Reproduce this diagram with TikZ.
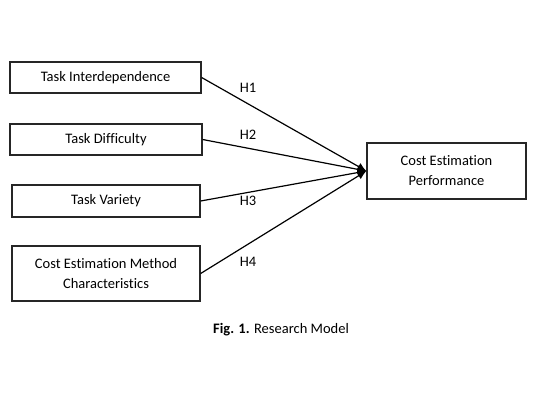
\documentclass[tikz,border=0pt]{standalone}
\usepackage{fontspec}
\setmainfont[Ligatures=NoCommon]{Carlito}
\usetikzlibrary{arrows.meta}
\begin{document}
\begin{tikzpicture}[x=1pt,y=-1pt,
  box/.style={draw=black!85,line width=1.3pt,inner sep=0pt,align=center,font=\fontsize{14.5}{20}\selectfont},
  lab/.style={font=\fontsize{14.5}{18}\selectfont},
  conn/.style={line width=1.2pt,-{Latex[length=9pt,width=8pt]}}]
\useasboundingbox (0,0) rectangle (544,408);
\node[box,minimum width=191pt,minimum height=31pt] (a) at (105.5,77.5) {Task Interdependence};
\node[box,minimum width=192pt,minimum height=31pt] (b) at (106,139.5) {Task Difficulty};
\node[box,minimum width=188pt,minimum height=32pt] (c) at (106,201) {Task Variety};
\node[box,minimum width=188pt,minimum height=55pt] (d) at (106,273.5) {Cost Estimation Method\\Characteristics};
\node[box,minimum width=159pt,minimum height=56pt] (e) at (446.5,171) {Cost Estimation\\Performance};
\draw[conn] (a.east) -- (e.west);
\draw[conn] (b.east) -- (e.west);
\draw[conn] (c.east) -- (e.west);
\draw[conn] (d.east) -- (e.west);
\node[lab] (h1) at (248,88) {H1};
\node[lab] (h2) at (248,135) {H2};
\node[lab] (h3) at (248,201) {H3};
\node[lab] (h4) at (248,262) {H4};
\node[lab] (cap) at (281,330) {\textbf{Fig. 1.} Research Model};
\end{tikzpicture}
\end{document}
